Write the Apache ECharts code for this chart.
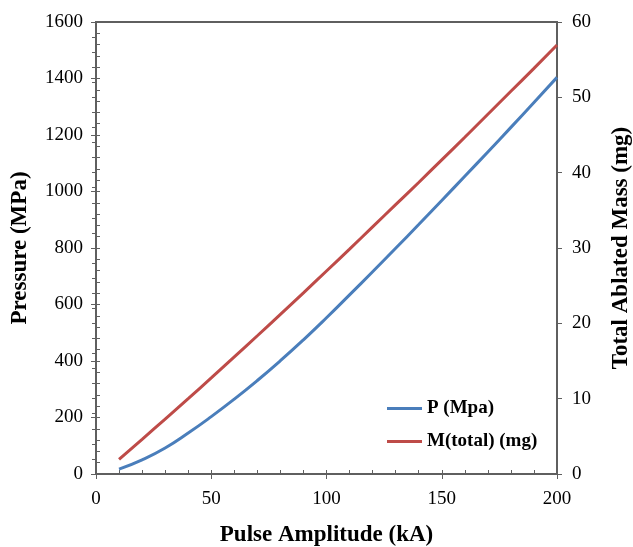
<!DOCTYPE html>
<html>
<head>
<meta charset="utf-8">
<script src="https://cdn.jsdelivr.net/npm/echarts@6/dist/echarts.min.js"></script>
<style>
  html, body { margin: 0; padding: 0; background: #fff; }
  #main { width: 633px; height: 547px; }
</style>
</head>
<body>
<div id="main"></div>
<script>
// pulse amplitude in kA
const amplitude = [10, 20, 30, 40, 50, 60, 70, 80, 90, 100, 110, 120, 130, 140, 150, 160, 170, 180, 190, 200]
// pressure (MPa)
const pressure = [17, 50, 92, 145, 203, 265, 331, 401, 475, 553, 634, 716, 799, 883, 968, 1054, 1140, 1227, 1315, 1404]
// total ablated mass (mg)
const mass = [1.95, 4.6, 7.3, 10.0, 12.75, 15.55, 18.35, 21.2, 24.05, 26.95, 29.85, 32.8, 35.75, 38.7, 41.7, 44.7, 47.75, 50.8, 53.85, 56.95]

const seriesNames = ['P (Mpa)', 'M(total) (mg)']

var myChart = echarts.init(document.getElementById('main'));

const axisColor = '#5f5f5f'
const serif = '"Liberation Serif", "DejaVu Serif", serif'

const labelStyle = { fontFamily: serif, fontSize: 19, color: '#000', formatter: v => String(v) }
const nameStyle = { fontFamily: serif, fontSize: 23, fontWeight: 'bold', color: '#000' }

// outward halves of the major ticks
function tickOnly(extra) {
  return Object.assign({
    type: 'value',
    axisLine: { show: false },
    axisLabel: { show: false },
    splitLine: { show: false },
    axisTick: { show: true, inside: false, length: 5, lineStyle: { color: axisColor, width: 1 } }
  }, extra)
}

var option = {
  animation: false,
  grid: {
    left: 96, right: 76, top: 22, bottom: 73,
    outerBoundsMode: 'none',
    containLabel: false,
    show: true, borderColor: axisColor, borderWidth: 2
  },
  legend: {
    orient: 'vertical',
    left: 382, top: 394,
    icon: 'rect',
    itemWidth: 35, itemHeight: 3, itemGap: 14,
    textStyle: { fontFamily: serif, fontSize: 19, fontWeight: 'bold', color: '#000' },
    data: seriesNames
  },
  xAxis: [
    {
      type: 'value', min: 0, max: 200, interval: 50,
      name: 'Pulse Amplitude (kA)', nameLocation: 'middle', nameGap: 50,
      nameTextStyle: nameStyle,
      axisLine: { lineStyle: { color: axisColor, width: 2 } },
      axisTick: { inside: true, length: 4, lineStyle: { color: axisColor } },
      minorTick: { show: true, splitNumber: 5, length: 4, lineStyle: { color: axisColor } },
      axisLabel: Object.assign({ margin: 16 }, labelStyle),
      splitLine: { show: false }
    },
    tickOnly({ min: 0, max: 200, interval: 50, position: 'bottom' })
  ],
  yAxis: [
    {
      type: 'value', min: 0, max: 1600, interval: 200,
      name: 'Pressure (MPa)', nameLocation: 'middle', nameGap: 64,
      nameTextStyle: nameStyle,
      axisLine: { show: true, lineStyle: { color: axisColor, width: 2 } },
      axisTick: { show: true, inside: true, length: 4, lineStyle: { color: axisColor } },
      minorTick: { show: true, splitNumber: 5, length: 4, lineStyle: { color: axisColor } },
      axisLabel: Object.assign({ margin: 13 }, labelStyle),
      splitLine: { show: false }
    },
    {
      type: 'value', min: 0, max: 60, interval: 10, position: 'right',
      name: 'Total Ablated Mass (mg)', nameLocation: 'middle', nameGap: 53,
      nameRotate: 90,
      nameTextStyle: nameStyle,
      axisLine: { show: true, lineStyle: { color: axisColor, width: 2 } },
      axisTick: { show: true, inside: true, length: 4, lineStyle: { color: axisColor } },
      minorTick: { show: true, splitNumber: 5, length: 4, lineStyle: { color: axisColor } },
      axisLabel: Object.assign({ margin: 15 }, labelStyle),
      splitLine: { show: false }
    },
    tickOnly({ min: 0, max: 1600, interval: 200, position: 'left' }),
    tickOnly({ min: 0, max: 60, interval: 10, position: 'right' })
  ],
  series: [
    {
      name: seriesNames[0],
      type: 'line',
      yAxisIndex: 0,
      symbol: 'none',
      smooth: true,
      lineStyle: { color: '#4a7ebb', width: 3 },
      itemStyle: { color: '#4a7ebb' },
      data: amplitude.map((a, i) => [a, pressure[i]])
    },
    {
      name: seriesNames[1],
      type: 'line',
      yAxisIndex: 1,
      symbol: 'none',
      smooth: true,
      lineStyle: { color: '#be4b48', width: 3 },
      itemStyle: { color: '#be4b48' },
      data: amplitude.map((a, i) => [a, mass[i]])
    }
  ]
};

myChart.setOption(option);
</script>
</body>
</html>
